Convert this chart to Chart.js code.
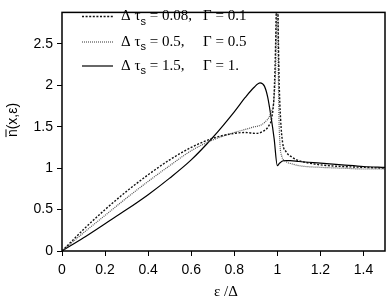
<!DOCTYPE html>
<html>
<head>
<meta charset="utf-8">
<script src="https://cdn.jsdelivr.net/npm/chart.js@4/dist/chart.umd.min.js"></script>
<style>
  body{margin:0;background:#fff;}
  canvas{display:block;}
</style>
</head>
<body>
<canvas id="myChart" width="390" height="302"></canvas>
<script>
'use strict';
// dtau = 0.08, Gamma = 0.1
let x1=[0,0.05,0.1,0.2,0.3,0.4,0.5,0.6,0.7,0.8,0.85,0.9,0.93,0.96,0.975,0.985,0.992,0.997,1.0,1.003,1.008,1.015,1.025,1.04,1.07,1.1,1.15,1.2,1.3,1.4,1.5];
let y1=[0,0.13,0.26,0.5,0.72,0.92,1.1,1.25,1.36,1.42,1.43,1.42,1.44,1.51,1.62,1.9,2.5,3.2,3.5,2.9,2.1,1.6,1.3,1.2,1.13,1.09,1.06,1.04,1.02,1.01,1.0];
// dtau = 0.5, Gamma = 0.5
let x2=[0,0.1,0.2,0.3,0.4,0.5,0.6,0.7,0.8,0.88,0.94,0.97,0.985,0.993,0.998,1.0,1.003,1.007,1.012,1.02,1.04,1.07,1.1,1.2,1.3,1.4,1.5];
let y2=[0,0.22,0.43,0.64,0.84,1.03,1.21,1.34,1.43,1.49,1.55,1.67,1.85,2.3,3.2,3.6,2.6,1.7,1.3,1.15,1.08,1.05,1.03,1.01,1.0,0.99,0.99];
// dtau = 1.5, Gamma = 1.
let x3=[0,0.1,0.2,0.3,0.4,0.5,0.6,0.7,0.8,0.85,0.89,0.92,0.94,0.955,0.97,0.985,1.0,1.01,1.03,1.06,1.1,1.2,1.3,1.4,1.5];
let y3=[0,0.16,0.33,0.5,0.68,0.88,1.1,1.37,1.68,1.85,1.97,2.03,1.99,1.86,1.63,1.36,1.03,1.06,1.09,1.09,1.08,1.06,1.04,1.02,1.01];

let xTicks=[0,0.2,0.4,0.6,0.8,1,1.2,1.4];
let yTicks=[0,0.5,1,1.5,2,2.5];
let tauLabels=['0.08','0.5','1.5'];
let gammaLabels=['0.1','0.5','1.'];

function points(xs, ys){
  let out=[];
  for(let i=0; i<xs.length; i++){
    out.push({x:xs[i], y:ys[i]});
  }
  return out;
}

let lineStyles=[
  {color:'#111', width:1.4, dash:[2,1.6]},
  {color:'#555', width:1.2, dash:[1,1]},
  {color:'#000', width:1.2, dash:[]}
];

let boxPlugin={
  id:'boxPlugin',
  afterDraw(chart){
    let ctx=chart.ctx;
    let a=chart.chartArea;
    ctx.save();
    ctx.strokeStyle='#000';
    ctx.lineWidth=1.5;
    ctx.strokeRect(a.left, a.top, a.right-a.left, a.bottom-a.top);

    // legend
    let rows=[16.5, 42, 66];
    for(let i=0; i<3; i++){
      let s=lineStyles[i];
      ctx.strokeStyle=s.color;
      ctx.lineWidth=s.width;
      ctx.setLineDash(s.dash);
      ctx.beginPath();
      ctx.moveTo(82, rows[i]);
      ctx.lineTo(113, rows[i]);
      ctx.stroke();
      ctx.setLineDash([]);
      ctx.fillStyle='#000';
      ctx.textBaseline='middle';
      ctx.textAlign='left';
      ctx.font='15px "Liberation Serif"';
      let x=121;
      ctx.fillText('\u0394 \u03c4', x, rows[i]);
      x+=ctx.measureText('\u0394 \u03c4').width;
      ctx.font='11px "Liberation Sans"';
      ctx.fillText('s', x, rows[i]+5);
      x+=ctx.measureText('s').width;
      ctx.font='15px "Liberation Serif"';
      ctx.fillText(' = '+tauLabels[i]+',', x, rows[i]);
      ctx.fillText('\u0393 = '+gammaLabels[i], 203, rows[i]);
    }

    // x title
    ctx.font='15px "Liberation Serif"';
    ctx.textAlign='center';
    ctx.fillText('\u03b5 /\u0394', 226, 292);

    // y title
    ctx.translate(13, 120);
    ctx.rotate(-Math.PI/2);
    ctx.font='14px "Liberation Sans"';
    ctx.textAlign='center';
    let txt='n(x,\u03b5)';
    ctx.fillText(txt, 0, 0);
    let w=ctx.measureText(txt).width;
    let nw=ctx.measureText('n').width;
    ctx.strokeStyle='#000';
    ctx.lineWidth=1;
    ctx.beginPath();
    ctx.moveTo(-w/2, -7);
    ctx.lineTo(-w/2+nw, -7);
    ctx.stroke();
    ctx.restore();
  }
};

let ctx=document.getElementById('myChart').getContext('2d');
let myChart=new Chart(ctx, {
  type:'line',
  data:{
    datasets:[
      {data:points(x1,y1)},
      {data:points(x2,y2)},
      {data:points(x3,y3)}
    ].map(function(d, i){
      d.borderColor=lineStyles[i].color;
      d.borderWidth=lineStyles[i].width;
      d.borderDash=lineStyles[i].dash;
      d.pointRadius=0;
      d.fill=false;
      d.cubicInterpolationMode='monotone';
      return d;
    })
  },
  options:{
    responsive:false,
    animation:false,
    layout:{padding:{top:2, right:5, left:0, bottom:0}},
    plugins:{legend:{display:false}, tooltip:{enabled:false}},
    scales:{
      x:{
        type:'linear',
        min:0,
        max:1.5,
        afterBuildTicks(scale){ scale.ticks=xTicks.map(v=>({value:v})); },
        afterFit(scale){ scale.height=51; },
        ticks:{color:'#000', font:{family:'Liberation Sans', size:14}, padding:6, maxRotation:0,
          callback(v){ return String(v); }},
        grid:{drawOnChartArea:false, tickLength:5, color:'#000', lineWidth:1},
        border:{display:false}
      },
      y:{
        type:'linear',
        min:0,
        max:2.88,
        afterBuildTicks(scale){ scale.ticks=yTicks.map(v=>({value:v})); },
        afterFit(scale){ scale.width=62; },
        ticks:{color:'#000', font:{family:'Liberation Sans', size:14}, padding:4,
          callback(v){ return String(v); }},
        grid:{drawOnChartArea:false, tickLength:5, color:'#000', lineWidth:1},
        border:{display:false}
      }
    }
  },
  plugins:[boxPlugin]
});
</script>
</body>
</html>
